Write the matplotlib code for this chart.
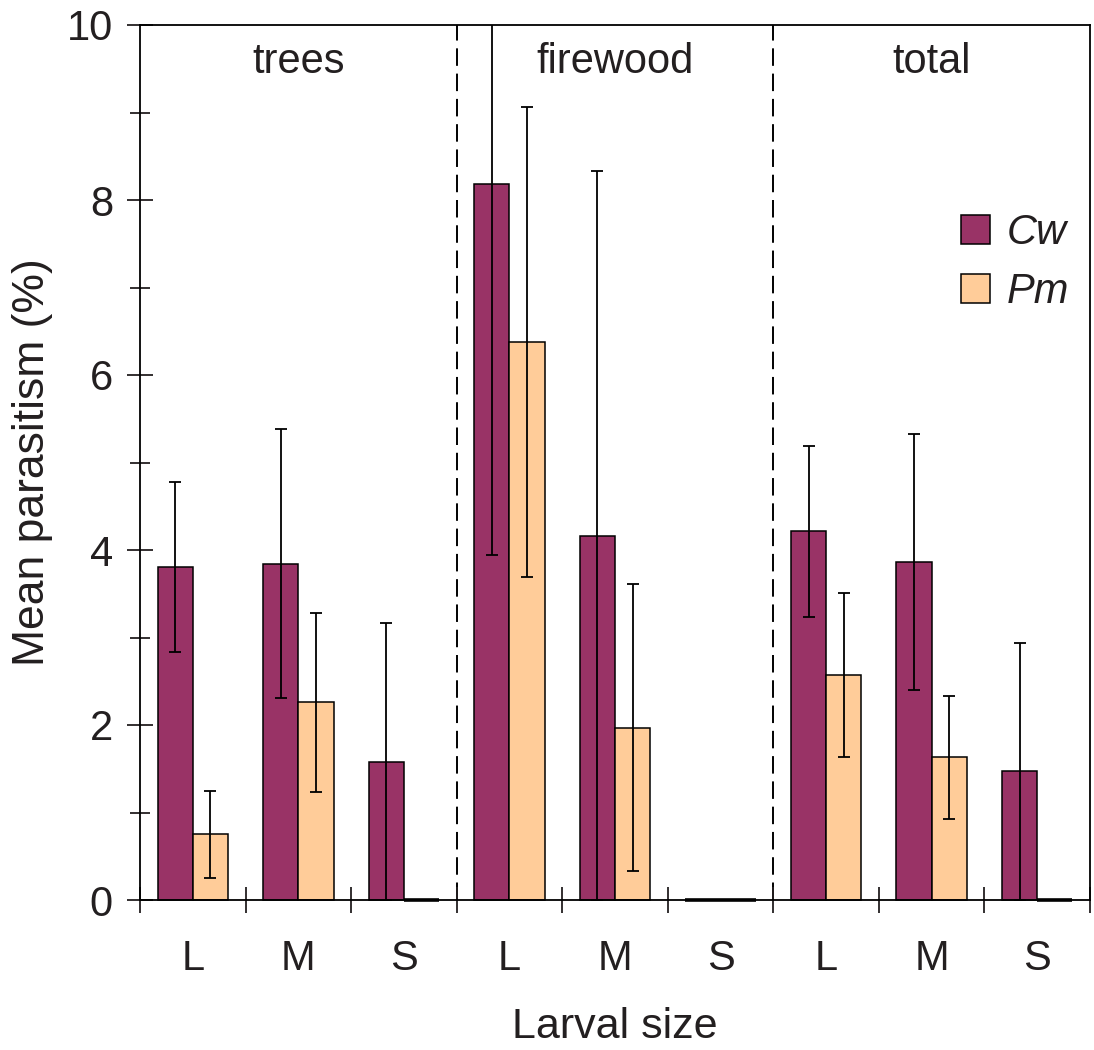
import numpy as np
import matplotlib
matplotlib.use("Agg")
import matplotlib.pyplot as plt
from matplotlib.patches import Patch

# data
sections = ["trees", "firewood", "total"]
sizes = ["L", "M", "S", "L", "M", "S", "L", "M", "S"]

cw_mean = [3.81, 3.84, 1.58, 8.18, 4.16, 0.0, 4.22, 3.86, 1.47]
cw_low = [2.84, 2.31, 0.0, 3.94, 0.0, 0.0, 3.24, 2.40, 0.0]
cw_high = [4.78, 5.38, 3.17, 12.42, 8.33, 0.0, 5.19, 5.33, 2.94]

pm_mean = [0.75, 2.26, 0.0, 6.38, 1.97, 0.0, 2.57, 1.63, 0.0]
pm_low = [0.25, 1.23, 0.0, 3.69, 0.33, 0.0, 1.63, 0.93, 0.0]
pm_high = [1.25, 3.28, 0.0, 9.06, 3.61, 0.0, 3.51, 2.33, 0.0]

cw_color = "#993366"
pm_color = "#ffcc99"
ink = "#231f20"

plt.rcParams["font.family"] = ["Liberation Sans", "DejaVu Sans"]
plt.rcParams["text.color"] = ink
plt.rcParams["axes.labelcolor"] = ink
plt.rcParams["xtick.color"] = ink
plt.rcParams["ytick.color"] = ink

fig = plt.figure(figsize=(10.94, 10.5), dpi=100)
ax = fig.add_axes([140 / 1094, 150 / 1050, 950 / 1094, 875 / 1050])

x = np.arange(len(sizes)) + 0.5
w = 1 / 3

# zero-height bars show up as a heavy line on the baseline
cw_lw = [1.1 if v > 0 else 2.6 for v in cw_mean]
pm_lw = [1.1 if v > 0 else 2.6 for v in pm_mean]
ax.bar(x - w / 2, cw_mean, width=w, color=cw_color, edgecolor="black",
       linewidth=cw_lw, zorder=2, clip_on=False)
ax.bar(x + w / 2, pm_mean, width=w, color=pm_color, edgecolor="black",
       linewidth=pm_lw, zorder=2, clip_on=False)


def draw_err(xs, mean, low, high):
    mean = np.array(mean)
    keep = mean > 0
    lo = mean - np.array(low)
    hi = np.array(high) - mean
    ax.errorbar(xs[keep], mean[keep], yerr=[lo[keep], hi[keep]], fmt="none",
                ecolor="black", elinewidth=1.3, capsize=4, capthick=1.3, zorder=3)


draw_err(x - w / 2, cw_mean, cw_low, cw_high)
draw_err(x + w / 2, pm_mean, pm_low, pm_high)

# section dividers and names
for xd in [3, 6]:
    ax.axvline(xd, color="black", linestyle=(0, (9, 4)), linewidth=1.4, zorder=1)
for i, name in enumerate(sections):
    ax.text(3 * i + 1.5, 9.58, name, ha="center", va="center", fontsize=30)

ax.set_xlim(0, 9)
ax.set_ylim(0, 10)

ax.set_yticks([0, 2, 4, 6, 8, 10])
ax.set_yticks([1, 3, 5, 7, 9], minor=True)
ax.tick_params(axis="y", which="major", direction="inout", length=19, width=1.3, labelsize=30, pad=10)
ax.tick_params(axis="y", which="minor", direction="inout", length=15, width=1.3)

ax.set_xticks(np.arange(0, 10))
ax.set_xticklabels([])
ax.set_xticks(x, minor=True)
ax.set_xticklabels(sizes, minor=True)
ax.tick_params(axis="x", which="major", direction="inout", length=19, width=1.3)
ax.tick_params(axis="x", which="minor", length=0, labelsize=30, pad=28)

for s in ax.spines.values():
    s.set_linewidth(1.3)

ax.set_ylabel("Mean parasitism (%)", fontsize=32, labelpad=10)
ax.set_xlabel("Larval size", fontsize=31, labelpad=20)

handles = [Patch(facecolor=cw_color, edgecolor="black", linewidth=1.1),
           Patch(facecolor=pm_color, edgecolor="black", linewidth=1.1)]
leg = ax.legend(handles, ["Cw", "Pm"], loc="upper right", bbox_to_anchor=(0.978, 0.785),
                frameon=False, fontsize=30, handlelength=0.7, handleheight=0.7,
                handletextpad=0.4, labelspacing=0.45, borderpad=0, borderaxespad=0)
for t in leg.get_texts():
    t.set_fontstyle("italic")

fig.savefig("out.png", dpi=100)
